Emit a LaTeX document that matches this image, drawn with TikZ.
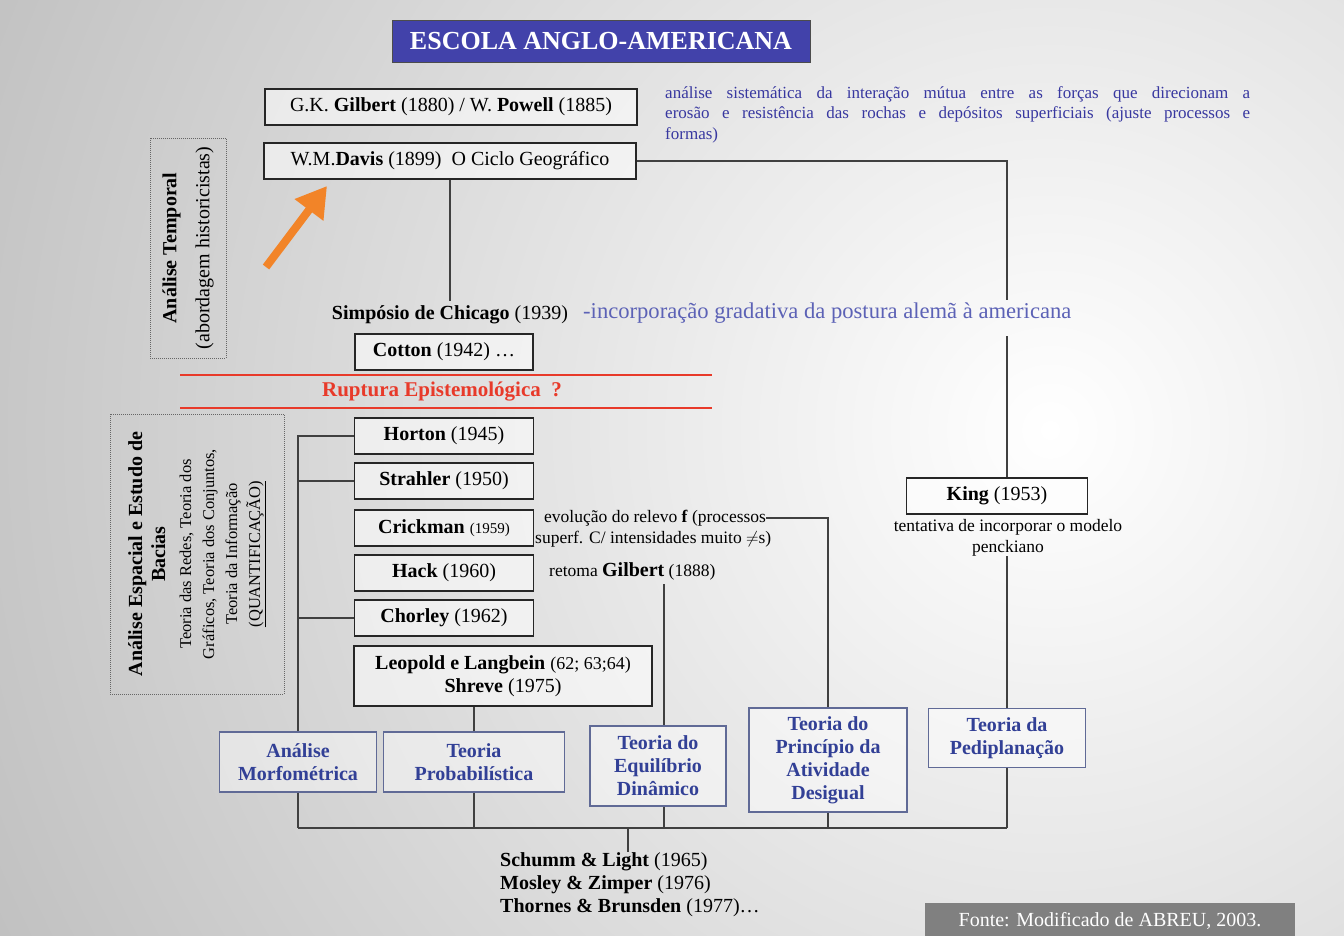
\documentclass[tikz,border=0pt]{standalone}
\usepackage{fontspec}
\setmainfont{Liberation Serif}
\usetikzlibrary{arrows.meta}

\definecolor{titleblue}{RGB}{66,66,170}
\definecolor{notesblue}{RGB}{56,56,160}
\definecolor{softblue}{RGB}{92,98,182}
\definecolor{theoryblue}{RGB}{50,64,150}
\definecolor{theoryframe}{RGB}{96,106,150}
\definecolor{rupturered}{RGB}{232,58,42}
\definecolor{arroworange}{RGB}{242,132,40}
\definecolor{fontegray}{RGB}{128,128,128}

\tikzset{
  authorbox/.style={draw=black!85, line width=1.4pt, fill=white, fill opacity=0.55,
    text opacity=1, inner sep=0pt, minimum height=36pt, align=center,
    font=\fontsize{20}{23}\selectfont},
  theorybox/.style={draw=theoryframe, line width=1.2pt, fill=white, fill opacity=0.45,
    text opacity=1, inner sep=0pt, align=center, text=theoryblue,
    font=\bfseries\fontsize{20}{23}\selectfont},
  framebox/.style={draw=black!60, densely dotted, line width=1pt, inner sep=0pt,
    rotate=90, align=center},
  notetext/.style={inner sep=0pt, font=\fontsize{17.5}{20.5}\selectfont},
  link/.style={draw=black!75, line width=1.1pt},
  rupture/.style={draw=rupturered, line width=1.3pt}
}

\begin{document}
\begin{tikzpicture}[x=1pt, y=-1pt]
  \useasboundingbox (0,0) rectangle (1344,935);
  % fundo degradê
  \begin{scope}
    \clip (0,0) rectangle (1344,935);
    \shade[inner color=white, outer color=black!48] (1050,430) circle [radius=2300pt];
  \end{scope}

  % titulo
  \node[fill=titleblue, draw=black!70, line width=1pt, text=white, minimum width=418pt,
    minimum height=42pt, inner sep=0pt, font=\bfseries\fontsize{26}{30}\selectfont]
    (title) at (601,41) {ESCOLA ANGLO-AMERICANA};

  % analise temporal
  \node[authorbox, minimum width=372pt] (gilbert) at (451,107)
    {G.K. \textbf{Gilbert} (1880) / W. \textbf{Powell} (1885)};
  \node[authorbox, minimum width=372pt] (davis) at (450,161)
    {W.M.\textbf{Davis} (1899)~~O Ciclo Geográfico};
  \node[anchor=north west, text width=585pt, align=justify, inner sep=0pt, text=notesblue,
    font=\fontsize{17}{20.5}\selectfont] (gilbertnote) at (665,86)
    {análise sistemática da interação mútua entre as forças que direcionam a\linebreak
     erosão e resistência das rochas e depósitos superficiais (ajuste processos e\linebreak
     formas)};
  \node[framebox, minimum width=220pt, minimum height=76pt, font=\fontsize{20}{20}\selectfont]
    (temporal) at (188,248) {\textbf{Análise Temporal}\\[13pt](abordagem historicistas)};
  \coordinate (arrowtail) at (266,267);
  \coordinate (arrowtip) at (327,186);
  \draw[line width=8pt, arroworange, -{Triangle[length=30pt,width=34pt]}] (arrowtail) -- (arrowtip);

  \node[notetext, font=\fontsize{20}{23}\selectfont] (simposio) at (450,315)
    {\textbf{Simpósio de Chicago} (1939)};
  \node[anchor=west, inner sep=0pt, text=softblue, font=\fontsize{22.6}{25}\selectfont]
    (simposionote) at (583,313) {-incorporação gradativa da postura alemã à americana};
  \node[authorbox, minimum width=178pt] (cotton) at (444,352) {\textbf{Cotton} (1942) \dots};

  % ruptura
  \draw[rupture] (180,375) -- (712,375);
  \draw[rupture] (180,408) -- (712,408);
  \node[inner sep=0pt, text=rupturered, font=\bfseries\fontsize{21}{24}\selectfont]
    (ruptura) at (442,392) {Ruptura Epistemológica~~?};

  % analise espacial
  \node[framebox, minimum width=280pt, minimum height=174pt, font=\fontsize{16.5}{23}\selectfont]
    (espacial) at (197,554)
    {{\fontsize{20}{23}\selectfont\textbf{Análise Espacial e Estudo de}}\\
     {\fontsize{20}{23}\selectfont\textbf{Bacias}}\\[3pt]
     Teoria das Redes, Teoria dos\\
     Gráficos, Teoria dos Conjuntos,\\
     Teoria da Informação\\
     \underline{(QUANTIFICAÇÃO)}};
  \node[authorbox, minimum width=179pt] (horton) at (444,436) {\textbf{Horton} (1945)};
  \node[authorbox, minimum width=179pt] (strahler) at (444,481) {\textbf{Strahler} (1950)};
  \node[authorbox, minimum width=179pt] (crickman) at (444,528)
    {\textbf{Crickman} {\fontsize{15}{18}\selectfont(1959)}};
  \node[authorbox, minimum width=179pt] (hack) at (444,573) {\textbf{Hack} (1960)};
  \node[authorbox, minimum width=179pt] (chorley) at (444,618) {\textbf{Chorley} (1962)};
  \node[authorbox, minimum width=298pt, minimum height=60pt] (leopold) at (503,676)
    {\textbf{Leopold e Langbein} {\fontsize{18}{20}\selectfont(62; 63;64)}\\\textbf{Shreve} (1975)};

  \node[notetext, anchor=west] (crickmanA) at (544,518) {evolução do relevo \textbf{f} (processos};
  \node[notetext, anchor=west] (crickmanB) at (535,539) {superf. C/ intensidades muito $\neq$s)};
  \node[notetext, anchor=west] (hacknote) at (549,571)
    {retoma {\fontsize{20}{22}\selectfont\textbf{Gilbert}} (1888)};

  \node[authorbox, minimum width=181pt] (king) at (997,496) {\textbf{King} (1953)};
  \node[notetext, align=center] (kingnote) at (1008,538) {tentativa de incorporar o modelo\\penckiano};

  % teorias
  \node[theorybox, minimum width=157pt, minimum height=60pt] (morfo) at (298,762)
    {Análise\\Morfométrica};
  \node[theorybox, minimum width=181pt, minimum height=60pt] (prob) at (474,762)
    {Teoria\\Probabilística};
  \node[theorybox, minimum width=136pt, minimum height=80pt] (equil) at (658,766)
    {Teoria do\\Equilíbrio\\Dinâmico};
  \node[theorybox, minimum width=158pt, minimum height=104pt] (princ) at (828,760)
    {Teoria do\\Princípio da\\Atividade\\Desigual};
  \node[theorybox, minimum width=157pt, minimum height=59pt] (pedi) at (1007,738)
    {Teoria da\\Pediplanação};

  \node[anchor=north west, align=left, inner sep=0pt, font=\fontsize{20}{23}\selectfont]
    (schumm) at (500,852)
    {\textbf{Schumm \& Light} (1965)\\\textbf{Mosley \& Zimper} (1976)\\\textbf{Thornes \& Brunsden} (1977)\dots};
  \node[fill=fontegray, text=white, minimum width=370pt, minimum height=36pt, inner sep=0pt,
    font=\fontsize{20}{23}\selectfont] (fonte) at (1110,921) {Fonte: Modificado de ABREU, 2003.};

  % conexoes
  \coordinate (dk1) at (1007,300);
  \coordinate (dk2) at (1007,336);
  \coordinate (bl) at (298,828);
  \coordinate (gl) at (664,584);
  \coordinate (sl) at (628,828);
  \draw[link, shorten >=5pt] (davis.south) -- (davis.south |- simposio.north);
  \draw[link] (davis.east) -| (dk1);
  \draw[link] (dk2) -- (dk2 |- king.north);
  \draw[link] (kingnote.south -| pedi.north) -- (pedi.north);
  \draw[link] (horton.west) -| (morfo.north);
  \draw[link] (strahler.west) -- (strahler.west -| morfo.north);
  \draw[link] (chorley.west) -- (chorley.west -| morfo.north);
  \draw[link] (prob.north) -- (prob.north |- leopold.south);
  \draw[link] (gl) -- (gl |- equil.north);
  \draw[link] (crickmanA.east) -| (princ.north);
  \draw[link] (morfo.south) -- (bl);
  \draw[link] (prob.south) -- (prob.south |- bl);
  \draw[link] (gl |- equil.south) -- (gl |- bl);
  \draw[link] (princ.south) -- (princ.south |- bl);
  \draw[link] (pedi.south) -- (pedi.south |- bl);
  \draw[link] (bl) -- (pedi.south |- bl);
  \draw[link] (sl) -- (sl |- schumm.north);
\end{tikzpicture}
\end{document}
